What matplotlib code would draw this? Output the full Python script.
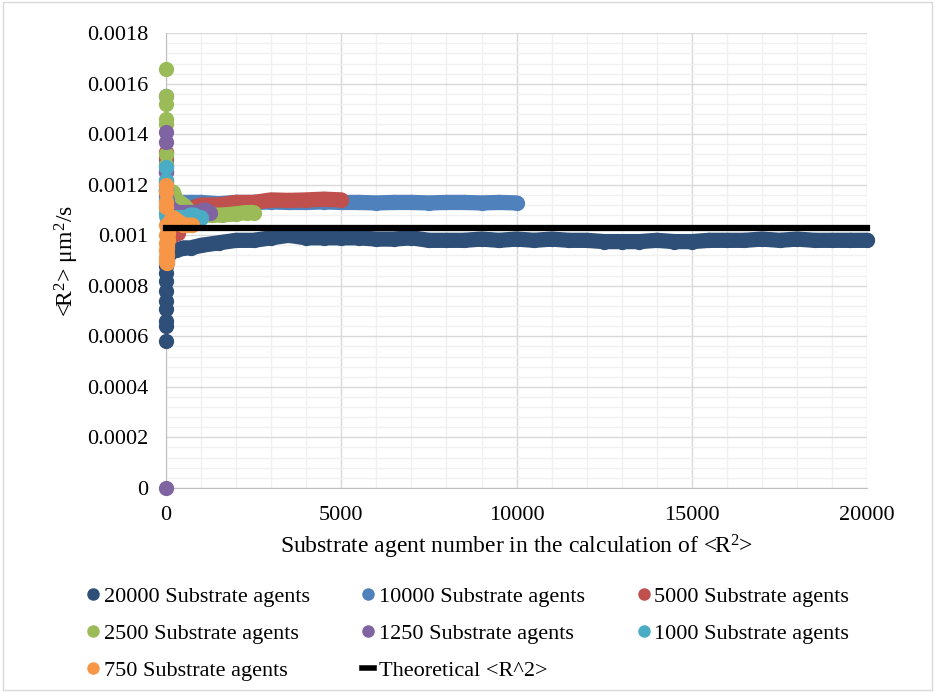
import numpy as np
import matplotlib
matplotlib.use('Agg')
import matplotlib.pyplot as plt
from matplotlib.ticker import MultipleLocator, FuncFormatter
from matplotlib.lines import Line2D
from matplotlib.patches import Rectangle

plt.rcParams['font.family'] = ['Liberation Serif', 'DejaVu Serif']
plt.rcParams['mathtext.fontset'] = 'custom'
plt.rcParams['mathtext.rm'] = 'Liberation Serif'
plt.rcParams['mathtext.it'] = 'Liberation Serif'

# running <R^2> values
x_20000 = [1, 2, 3, 4, 5, 6, 8, 10, 15, 20, 30, 50, 80, 120, 200, 300, 500, 700, 1000,
           1500, 2000, 2500, 3000, 3500, 4000, 4500, 5000, 5500, 6000, 6500, 7000, 7500,
           8000, 8500, 9000, 9500, 10000, 10500, 11000, 11500, 12000, 12500, 13000, 13500,
           14000, 14500, 15000, 15500, 16000, 16500, 17000, 17500, 18000, 18500, 19000,
           19500, 20000]
y_20000 = [0.00058, 0.00064, 0.00066, 0.00071, 0.00074, 0.00078, 0.00082, 0.00085, 0.00088,
           0.00090, 0.00091, 0.00092, 0.00093, 0.00093, 0.00094, 0.00094, 0.00095, 0.00095,
           0.00096, 0.00097, 0.00098, 0.00098, 0.00099, 0.00100, 0.00099, 0.00099, 0.00099,
           0.00099, 0.000985, 0.000985, 0.00099, 0.00098, 0.00098, 0.00098, 0.000985,
           0.00098, 0.000985, 0.00098, 0.000985, 0.00098, 0.00098, 0.000975, 0.000975,
           0.000975, 0.00098, 0.000975, 0.000975, 0.00098, 0.00098, 0.00098, 0.000985,
           0.00098, 0.000985, 0.00098, 0.00098, 0.00098, 0.00098]

x_10000 = [1, 3, 6, 10, 20, 50, 100, 200, 400, 700, 1000, 1500, 2000, 2500, 3000, 3500,
           4000, 4500, 5000, 5500, 6000, 6500, 7000, 7500, 8000, 8500, 9000, 9500, 10000]
y_10000 = [0.00155, 0.00130, 0.00118, 0.00115, 0.00114, 0.00113, 0.00113, 0.00113, 0.00113,
           0.00113, 0.00113, 0.001125, 0.00113, 0.00113, 0.001132, 0.00113, 0.00113,
           0.001132, 0.00113, 0.00113, 0.001128, 0.00113, 0.00113, 0.001128, 0.00113,
           0.00113, 0.001128, 0.00113, 0.001128]

x_5000 = [1, 2, 4, 8, 15, 30, 60, 100, 200, 340, 500, 800, 1000, 1500, 2000, 2500, 3000,
          3500, 4000, 4500, 5000]
y_5000 = [0.00131, 0.00133, 0.00128, 0.00125, 0.00120, 0.00112, 0.00105, 0.00101, 0.00100,
          0.00101, 0.00109, 0.00111, 0.00112, 0.00112, 0.00113, 0.00113, 0.00114, 0.001138,
          0.00114, 0.001143, 0.00114]

x_2500 = [1, 2, 3, 4, 5, 6, 8, 10, 15, 20, 30, 50, 80, 120, 200, 300, 500, 700, 1000,
          1300, 1600, 2000, 2300, 2500]
y_2500 = [0.00166, 0.00155, 0.00152, 0.00146, 0.00144, 0.00132, 0.00128, 0.00122, 0.00118,
          0.00115, 0.00112, 0.00111, 0.00113, 0.00116, 0.00117, 0.00114, 0.00112, 0.00109,
          0.00108, 0.00108, 0.00108, 0.001085, 0.00109, 0.00109]

x_1250 = [1, 2, 3, 4, 6, 8, 12, 20, 30, 50, 100, 200, 300, 500, 700, 900, 1100, 1250]
y_1250 = [0.0, 0.00141, 0.00137, 0.00125, 0.00121, 0.00118, 0.00116, 0.00114, 0.00113,
          0.00112, 0.00111, 0.00110, 0.00109, 0.00109, 0.00109, 0.00109, 0.00110, 0.00109]

x_1000 = [1, 2, 3, 5, 8, 12, 20, 30, 50, 100, 200, 300, 400, 500, 600, 700, 800, 900, 1000]
y_1000 = [0.00127, 0.00122, 0.00118, 0.00114, 0.00111, 0.00109, 0.00108, 0.00107, 0.00106,
          0.00106, 0.00106, 0.00107, 0.00107, 0.00107, 0.00107, 0.00108, 0.00108, 0.00107,
          0.00107]

x_750 = [1, 2, 3, 4, 5, 6, 8, 10, 12, 15, 20, 25, 30, 40, 50, 70, 100, 150, 200, 300, 400,
         500, 600, 700, 750]
y_750 = [0.00120, 0.00117, 0.00113, 0.00111, 0.00104, 0.00100, 0.00097, 0.00094, 0.00091,
         0.00090, 0.00089, 0.00090, 0.00092, 0.00095, 0.00098, 0.00101, 0.00104, 0.00106,
         0.00107, 0.00106, 0.00105, 0.00104, 0.00104, 0.00104, 0.00104]

x_theory = [0, 20000]
y_theory = [0.00103, 0.00103]

series = [
    (x_20000, y_20000, '#2e4f78', '20000 Substrate agents'),
    (x_10000, y_10000, '#4f81bd', '10000 Substrate agents'),
    (x_5000, y_5000, '#c0504d', '5000 Substrate agents'),
    (x_2500, y_2500, '#9bbb59', '2500 Substrate agents'),
    (x_1250, y_1250, '#8064a2', '1250 Substrate agents'),
    (x_1000, y_1000, '#4bacc6', '1000 Substrate agents'),
    (x_750, y_750, '#f79646', '750 Substrate agents'),
]

fig = plt.figure(figsize=(9.35, 6.92), dpi=100)
ax = fig.add_axes([0.1775, 0.295, 0.75, 0.657])

for xs, ys, col, lab in series:
    xs = np.array(xs)
    ys = np.array(ys)
    # the dense part of each run forms a continuous band; the first few are separate dots
    band = xs >= 20
    ax.plot(xs[band], ys[band], '-', color=col, lw=11, solid_capstyle='round',
            solid_joinstyle='round', zorder=3, clip_on=False)
    ax.plot(xs, ys, 'o', color=col, ms=11, mew=0, zorder=3, clip_on=False)

ax.plot(x_theory, y_theory, '-', color='black', lw=4.5, solid_capstyle='projecting',
        zorder=4, clip_on=False)

ax.set_xlim(0, 20000)
ax.set_ylim(0, 0.0018)
ax.xaxis.set_major_locator(MultipleLocator(5000))
ax.xaxis.set_minor_locator(MultipleLocator(1000))
ax.yaxis.set_major_locator(MultipleLocator(0.0002))
ax.yaxis.set_minor_locator(MultipleLocator(0.00004))
ax.yaxis.set_major_formatter(FuncFormatter(lambda v, p: f'{v:g}'))
ax.grid(which='major', color='#d9d9d9', lw=1, zorder=0)
ax.grid(which='minor', color='#f0f0f0', lw=1, zorder=0)
ax.set_axisbelow(True)
ax.tick_params(which='both', length=0, labelsize=16)
ax.tick_params(axis='y', pad=13)
ax.tick_params(axis='x', pad=13)
for s in ['top', 'right']:
    ax.spines[s].set_visible(False)
for s in ['left', 'bottom']:
    ax.spines[s].set_color('#bfbfbf')
    ax.spines[s].set_zorder(1)

ax.set_xlabel('Substrate agent number in the calculation of <R$^2$>', fontsize=17, labelpad=6)
ax.set_ylabel('<R$^2$> μm$^2$/s', fontsize=17, labelpad=4)

# legend in three columns
handles = [Line2D([], [], ls='none', marker='o', ms=9, mew=0, color=c) for _, _, c, _ in series]
labels = [lab for _, _, _, lab in series]
handles.append(Line2D([], [], color='black', lw=4))
labels.append('Theoretical <R^2>')
cols = [[0, 3, 6], [1, 4, 7], [2, 5]]
xpos = [0.093, 0.387, 0.682]
for ci, idx in enumerate(cols):
    leg = fig.legend([handles[i] for i in idx], [labels[i] for i in idx], loc='upper left',
                     bbox_to_anchor=(xpos[ci], 0.153), frameon=False, fontsize=16,
                     handlelength=0.55, handletextpad=0.2, labelspacing=0.75,
                     borderpad=0, borderaxespad=0)

fig.patches.append(Rectangle((0.003, 0.003), 0.994, 0.994, transform=fig.transFigure,
                             fill=False, edgecolor='#d9d9d9', lw=1))

fig.savefig('out.png', dpi=100)
